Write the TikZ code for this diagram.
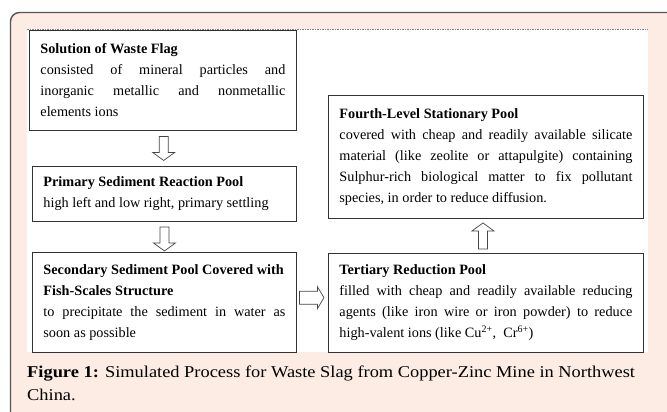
\documentclass[tikz,border=0pt]{standalone}
\usepackage{fontspec}
\setmainfont{Liberation Serif}
\newfontfamily\captionface[FakeStretch=1.115]{Liberation Serif}
\usetikzlibrary{calc}
\definecolor{framepink}{RGB}{253,236,228}
\definecolor{frameline}{RGB}{85,85,85}
\definecolor{boxline}{RGB}{50,50,50}
\definecolor{arrowline}{RGB}{70,70,70}
\tikzset{
  pool/.style={draw=boxline, line width=0.9pt, fill=white, anchor=north west,
    inner xsep=11pt, inner ysep=0pt, align=justify,
    font=\fontsize{14.25}{21}\selectfont},
  hollow/.style={draw=arrowline, line width=0.7pt, fill=white, line join=miter},
  darrow/.pic={\draw[hollow] (-4.5,-12) -- (4.5,-12) -- (4.5,4) -- (11,4) -- (0,12)
      -- (-11,4) -- (-4.5,4) -- cycle;},
  uarrow/.pic={\draw[hollow] (-4.5,13) -- (4.5,13) -- (4.5,-5) -- (11,-5) -- (0,-13)
      -- (-11,-5) -- (-4.5,-5) -- cycle;},
  rarrow/.pic={\draw[hollow] (-12,-6.5) -- (6,-6.5) -- (6,-11) -- (12.5,0) -- (6,11)
      -- (6,6.5) -- (-12,6.5) -- cycle;}
}
\begin{document}
\begin{tikzpicture}[x=1pt,y=-1pt]
\useasboundingbox (0,0) rectangle (667,412);
\clip (0,0) rectangle (667,412);
% caption frame and white drawing area
\draw[fill=framepink, draw=frameline, line width=1.4pt, rounded corners=9pt]
  (10.5,12.5) rectangle (676,430);
\fill[white] (27,29) rectangle (648,352);
\draw[gray, line width=0.6pt, dash pattern=on 1.5pt off 1pt] (27,29.5) -- (648,29.5);

% process stages
\node[pool, text width=245pt, minimum height=100pt] (waste) at (29,30)
  {\textbf{Solution of Waste Flag}\par
   consisted of mineral particles and\linebreak
   inorganic metallic and nonmetallic\linebreak
   elements ions};
\node[pool, text width=242pt, minimum height=55pt] (primary) at (32,166)
  {\textbf{Primary Sediment Reaction Pool}\par
   high left and low right, primary settling};
\node[pool, text width=242pt, minimum height=100pt] (secondary) at (32,252)
  {\textbf{Secondary Sediment Pool Covered with}\newline
   \textbf{Fish-Scales Structure}\par
   to precipitate the sediment in water as\linebreak
   soon as possible};
\node[pool, text width=293pt, minimum height=99pt] (tertiary) at (328,253)
  {\textbf{Tertiary Reduction Pool}\par
   filled with cheap and readily available reducing\linebreak
   agents (like iron wire or iron powder) to reduce\linebreak
   high-valent ions (like Cu\textsuperscript{2+},\ \ Cr\textsuperscript{6+})};
\node[pool, text width=293pt, minimum height=123pt] (fourth) at (328,95)
  {\textbf{Fourth-Level Stationary Pool}\par
   covered with cheap and readily available silicate\linebreak
   material (like zeolite or attapulgite) containing\linebreak
   Sulphur-rich biological matter to fix pollutant\linebreak
   species, in order to reduce diffusion.};

% flow arrows
\pic at ($(waste.south)!0.5!(primary.north)$) {darrow};
\pic at ($(primary.south)!0.5!(secondary.north)+(0,2)$) {darrow};
\pic at ($(secondary.east)!0.5!(tertiary.west)+(-1,-5)$) {rarrow};
\pic at ($(tertiary.north)!0.5!(fourth.south)+(-3,0)$) {uarrow};

% caption
\node[anchor=base west, inner sep=0pt, font=\captionface\fontsize{16.5}{23}\selectfont] (caption) at (27,377)
  {\parbox[t]{640pt}{\raggedright\textbf{Figure 1:} Simulated Process for Waste Slag from Copper-Zinc Mine in Northwest\\China.}};
\end{tikzpicture}
\end{document}
